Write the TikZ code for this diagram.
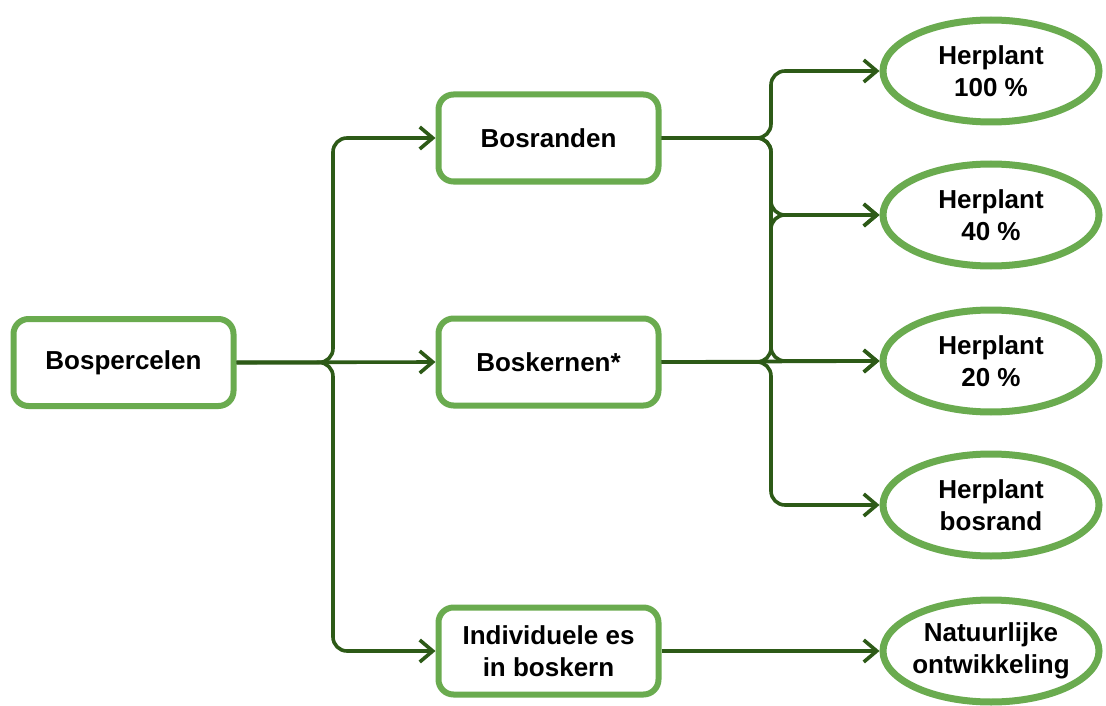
\documentclass[tikz,border=0pt]{standalone}
\usepackage{fontspec}
\setmainfont{Liberation Sans}
\usetikzlibrary{shapes.geometric,arrows.meta}
\definecolor{boxgreen}{HTML}{6AAB4F}
\definecolor{linegreen}{HTML}{2D5A17}
\begin{document}
\begin{tikzpicture}[x=1pt,y=-1pt,
  txt/.style={font=\fontsize{26}{32}\selectfont\bfseries, align=center, text=black},
  rbox/.style={txt, draw=boxgreen, line width=6pt, rounded corners=15pt, fill=white,
    minimum width=220pt, minimum height=87pt, inner sep=0pt},
  oval/.style={txt, draw=boxgreen, line width=7pt, ellipse, fill=white,
    minimum width=216pt, minimum height=102pt, inner sep=0pt},
  conn/.style={draw=linegreen, line width=3.6pt, rounded corners=14pt,
    -{Straight Barb[length=13pt,width=22pt,line width=3.6pt]}}]
\useasboundingbox (0,0) rectangle (1106,706);
\node[rbox] (bp) at (123.5,362.5) {Bospercelen};
\node[rbox] (br) at (548.5,138) {Bosranden};
\node[rbox] (bk) at (548.5,362) {Boskernen*};
\node[rbox] (ie) at (548.5,651) {Individuele es\\in boskern};
\node[oval] (h1) at (991,71) {Herplant\\100 \%};
\node[oval] (h2) at (991,215) {Herplant\\40 \%};
\node[oval] (h3) at (991,361) {Herplant\\20 \%};
\node[oval] (h4) at (991,505) {Herplant\\bosrand};
\node[oval, inner xsep=-14pt] (nt) at (991,651) {Natuurlijke\\ontwikkeling};
\coordinate (ta) at (333,0);
\coordinate (tb) at (771,0);
\draw[conn] (bp.east) -| (ta |- br.west) -- (br.west);
\draw[conn] (bp.east) -- (bk.west);
\draw[conn] (bp.east) -| (ta |- ie.west) -- (ie.west);
\draw[conn] (br.east) -| (tb |- h1.west) -- (h1.west);
\draw[conn] (br.east) -| (tb |- h2.west) -- (h2.west);
\draw[conn] (br.east) -| (tb |- h3.west) -- (h3.west);
\draw[conn] (bk.east) -| (tb |- h2.west) -- (h2.west);
\draw[conn] (bk.east) -- (h3.west);
\draw[conn] (bk.east) -| (tb |- h4.west) -- (h4.west);
\draw[conn] (ie.east) -- (nt.west);
\end{tikzpicture}
\end{document}
